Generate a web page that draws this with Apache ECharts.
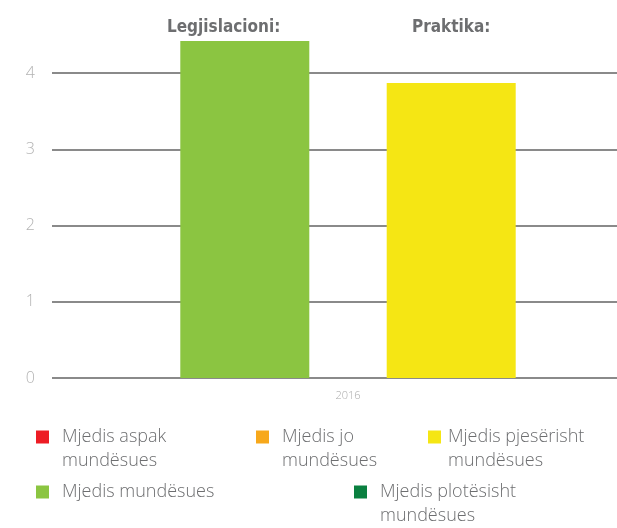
<!DOCTYPE html>
<html>
<head>
<meta charset="utf-8">
<script src="https://cdn.jsdelivr.net/npm/echarts@6/dist/echarts.min.js"></script>
<style>
  html, body { margin: 0; padding: 0; background: #fff; }
  #chart { width: 617px; height: 528px; }
</style>
</head>
<body>
<div id="chart"></div>
<script>
// data
const years = ["2016"];
const headings = ["Legjislacioni:", "Praktika:"];
const seriesNames = [
  "Mjedis aspak\nmundësues",
  "Mjedis jo\nmundësues",
  "Mjedis pjesërisht\nmundësues",
  "Mjedis mundësues",
  "Mjedis plotësisht\nmundësues"
];
const seriesColors = ["#ed1c24", "#f7a81b", "#f5e614", "#8bc541", "#0a8040"];
// which bar slot each series sits in (L = Legjislacioni, P = Praktika)
const seriesSlot = ["L", "L", "P", "L", "P"];
const seriesValues = [[], [], [3.87], [4.42], []];
const yTicks = [0, 1, 2, 3, 4];

const chart = echarts.init(document.getElementById("chart"));

const lightFont = "Open Sans";
const gray = "#6d6e70";

// one legend per item, placed like the original layout
const legendSpots = [
  { left: 36, top: 401, gap: 8 },
  { left: 256, top: 401, gap: 8 },
  { left: 428, top: 401, gap: 2 },
  { left: 36, top: 480, gap: 8 },
  { left: 354, top: 456, gap: 8 }
];

const headingStyle = { fontFamily: "DejaVu Sans Condensed", fontWeight: "bold", fontSize: 17, color: gray };

const option = {
  animation: false,
  title: [
    { text: headings[0], left: 162, top: 14, textStyle: headingStyle },
    { text: headings[1], left: 407, top: 14, textStyle: headingStyle }
  ],
  legend: seriesNames.map((name, i) => ({
    data: [name],
    left: legendSpots[i].left,
    top: legendSpots[i].top,
    padding: 0,
    itemWidth: 13,
    itemHeight: 13,
    icon: "rect",
    selectedMode: false,
    // a blank first line keeps the square level with the first text line
    formatter: n => (n.indexOf("\n") >= 0 ? " \n" + n : n),
    textStyle: {
      fontFamily: lightFont,
      fontWeight: 300,
      fontSize: 18,
      lineHeight: 24,
      color: gray,
      padding: [0, 0, 0, legendSpots[i].gap]
    }
  })),
  // the plot runs past the right edge of the picture, as in the original
  grid: { left: 52, top: 73, width: 592, bottom: 150, containLabel: false, outerBoundsMode: "none" },
  xAxis: {
    type: "category",
    data: years,
    axisLine: { show: false },
    axisTick: { show: false },
    axisLabel: { color: "#aaaaaa", fontSize: 11, fontFamily: lightFont, fontWeight: 300, margin: 12 }
  },
  yAxis: {
    type: "value",
    min: yTicks[0],
    max: yTicks[yTicks.length - 1],
    interval: 1,
    axisLine: { show: false },
    axisTick: { show: false },
    axisLabel: { color: "#b3b3b3", fontSize: 16, fontFamily: lightFont, fontWeight: 300, margin: 17 },
    splitLine: { lineStyle: { color: "#8a8a8a", width: 2 } }
  },
  series: seriesNames.map((name, i) => ({
    name,
    type: "bar",
    stack: seriesSlot[i],
    data: seriesValues[i],
    barWidth: 129,
    barGap: "60%",
    clip: false,
    itemStyle: { color: seriesColors[i] },
    z: 3
  }))
};

chart.setOption(option);
</script>
</body>
</html>
